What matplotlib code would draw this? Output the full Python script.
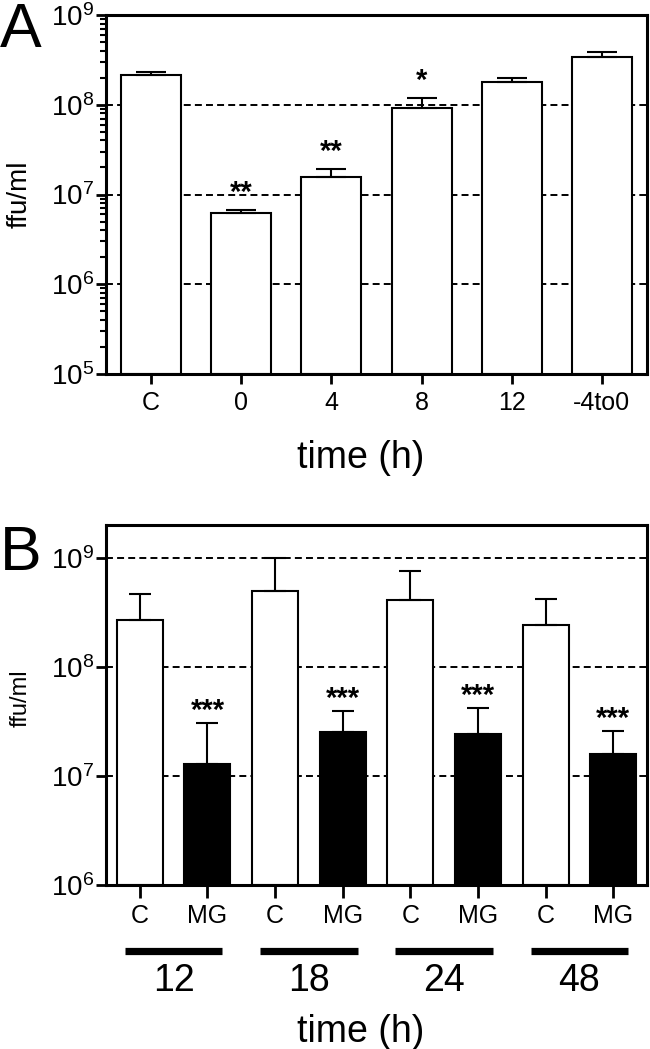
import matplotlib
matplotlib.use('Agg')
import matplotlib.pyplot as plt
import numpy as np
from matplotlib.ticker import LogLocator, NullFormatter, NullLocator
from matplotlib.transforms import blended_transform_factory

plt.rcParams['font.family'] = ['Liberation Sans', 'DejaVu Sans']
plt.rcParams['mathtext.fontset'] = 'custom'
plt.rcParams['mathtext.rm'] = 'Liberation Sans'
plt.rcParams['mathtext.it'] = 'Liberation Sans:italic'
plt.rcParams['mathtext.bf'] = 'Liberation Sans:bold'
plt.rcParams['lines.scale_dashes'] = False

# ---------------- Data: panel A ----------------
a_categories = ['C', '0', '4', '8', '12', '-4to0']
a_values = [2.15e8, 6.15e6, 1.58e7, 9.3e7, 1.8e8, 3.4e8]
a_err_top = [2.34e8, 6.8e6, 1.94e7, 1.2e8, 2.0e8, 3.88e8]
a_stars = ['', '**', '**', '*', '', '']
a_yticks = [1e5, 1e6, 1e7, 1e8, 1e9]
a_yticklabels = ['$10^{5}$', '$10^{6}$', '$10^{7}$', '$10^{8}$', '$10^{9}$']
a_gridlines = [1e6, 1e7, 1e8]

# ---------------- Data: panel B ----------------
b_categories = ['C', 'MG', 'C', 'MG', 'C', 'MG', 'C', 'MG']
b_groups = ['12', '18', '24', '48']
b_values = [2.7e8, 1.29e7, 5.0e8, 2.52e7, 4.13e8, 2.42e7, 2.44e8, 1.59e7]
b_err_top = [4.7e8, 3.05e7, 1.0e9, 3.93e7, 7.6e8, 4.18e7, 4.23e8, 2.58e7]
b_stars = ['', '***', '', '***', '', '***', '', '***']
b_colors = ['white', 'black', 'white', 'black', 'white', 'black', 'white', 'black']
b_yticks = [1e6, 1e7, 1e8, 1e9]
b_yticklabels = ['$10^{6}$', '$10^{7}$', '$10^{8}$', '$10^{9}$']
b_gridlines = [1e7, 1e8, 1e9]

W, H = 650, 1049
fig = plt.figure(figsize=(W / 100, H / 100), dpi=100)
axA = fig.add_axes([106 / W, 1 - 374 / H, 541 / W, 359 / H])
axB = fig.add_axes([106 / W, 1 - 885 / H, 541 / W, 360 / H])


def style_axis(ax):
    for s in ax.spines.values():
        s.set_linewidth(2.2)
        s.set_color('black')
    ax.tick_params(axis='both', which='major', direction='out', length=7, width=2, color='black')
    ax.tick_params(axis='y', which='major', labelsize=20, pad=1.5)
    ax.tick_params(axis='x', which='major', labelsize=18, pad=5)


# ---------------- Panel A ----------------
xa = np.arange(len(a_categories))
bottomA = a_yticks[0]
axA.set_yscale('log')
for g in a_gridlines:
    axA.axhline(g, color='black', lw=1.4, dashes=(5, 3), zorder=0)
axA.bar(xa, np.array(a_values) - bottomA, bottom=bottomA, width=0.667,
        color='white', edgecolor='black', linewidth=1.5, zorder=2)
axA.errorbar(xa, a_values,
             yerr=[np.zeros(len(a_values)), np.array(a_err_top) - np.array(a_values)],
             fmt='none', ecolor='black', elinewidth=1.5, capsize=11, capthick=1.5, zorder=3)
for xi, et, st in zip(xa, a_err_top, a_stars):
    if st:
        axA.annotate(st, xy=(xi, et), xytext=(0, 6.5), textcoords='offset points',
                     ha='center', va='baseline', fontsize=21, fontweight='bold')
axA.set_xlim(-0.5, 5.5)
axA.set_ylim(1e5, 1e9)
axA.set_yticks(a_yticks, a_yticklabels)
axA.yaxis.set_minor_locator(LogLocator(base=10, subs=np.arange(2, 10)))
axA.yaxis.set_minor_formatter(NullFormatter())
axA.tick_params(axis='y', which='minor', direction='out', length=4.5, width=1.5)
axA.set_xticks(xa, a_categories)
style_axis(axA)
axA.text(0.471, -0.234, 'time (h)', transform=axA.transAxes, ha='center', va='center', fontsize=27)

# ---------------- Panel B ----------------
xb = np.arange(len(b_categories))
bottomB = b_yticks[0]
axB.set_yscale('log')
for g in b_gridlines:
    axB.axhline(g, color='black', lw=1.4, dashes=(5, 3), zorder=0)
axB.bar(xb, np.array(b_values) - bottomB, bottom=bottomB, width=0.68,
        color=b_colors, edgecolor='black', linewidth=1.5, zorder=2)
axB.errorbar(xb, b_values,
             yerr=[np.zeros(len(b_values)), np.array(b_err_top) - np.array(b_values)],
             fmt='none', ecolor='black', elinewidth=1.5, capsize=8, capthick=1.5, zorder=3)
for xi, et, st in zip(xb, b_err_top, b_stars):
    if st:
        axB.annotate(st, xy=(xi, et), xytext=(0, 3), textcoords='offset points',
                     ha='center', va='baseline', fontsize=21, fontweight='bold')
axB.set_xlim(-0.5, 7.5)
axB.set_ylim(1e6, 2.0e9)
axB.set_yticks(b_yticks, b_yticklabels)
axB.yaxis.set_minor_locator(NullLocator())
axB.set_xticks(xb, b_categories)
style_axis(axB)
axB.tick_params(axis='x', which='major', length=9, pad=5)

trans = blended_transform_factory(axB.transData, axB.transAxes)
for gi, lab in enumerate(b_groups):
    c = 2 * gi + 0.5
    axB.plot([c - 0.72, c + 0.72], [-0.182, -0.182], transform=trans, color='black',
             lw=5.2, solid_capstyle='butt', clip_on=False)
    axB.text(c, -0.268, lab, transform=trans, ha='center', va='center', fontsize=27)
axB.text(0.471, -0.408, 'time (h)', transform=axB.transAxes, ha='center', va='center', fontsize=27)

# ---------------- Labels ----------------
fig.text(20 / W, 1 - 194 / H, 'ffu/ml', rotation=90, ha='center', va='center', fontsize=20)
fig.text(21 / W, 1 - 698 / H, 'ffu/ml', rotation=90, ha='center', va='center', fontsize=17)
fig.text(0.0, 1 - 47 / H, 'A', fontsize=45, ha='left', va='baseline')
fig.text(0.0, 1 - 570 / H, 'B', fontsize=45, ha='left', va='baseline')

fig.savefig('out.png', dpi=100)
